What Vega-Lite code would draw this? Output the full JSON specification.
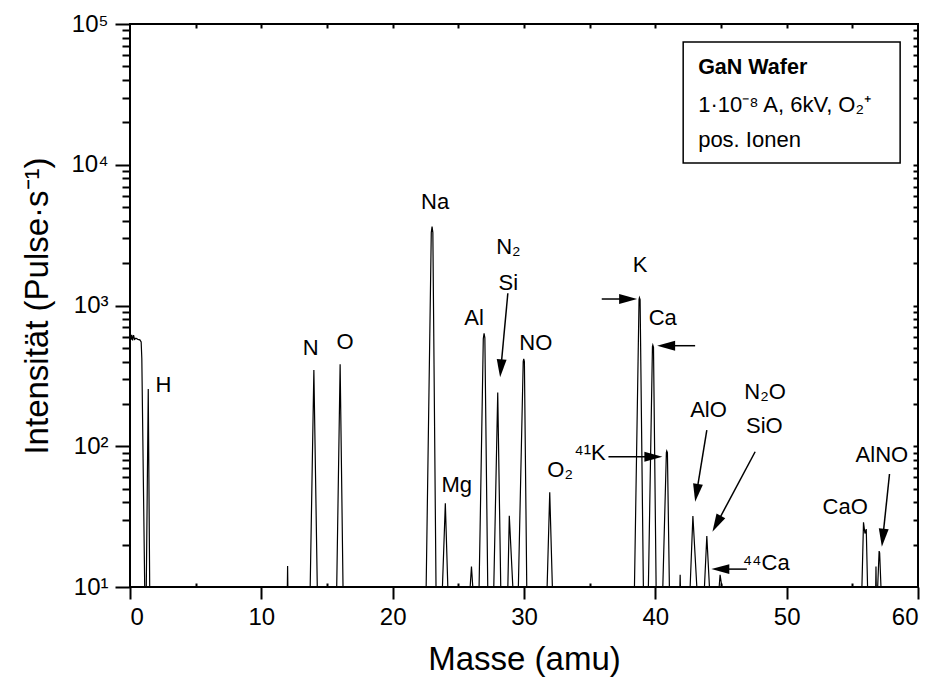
{
  "$schema": "https://vega.github.io/schema/vega-lite/v6.json",
  "width": 788,
  "height": 563,
  "autosize": {"type": "none"},
  "padding": {"left": 130, "top": 24, "right": 15, "bottom": 99},
  "background": "white",
  "config": {
    "view": {"stroke": "black", "strokeWidth": 2},
    "axis": {
      "domain": false, "grid": false,
      "tickColor": "black", "tickWidth": 2,
      "labelFont": "Liberation Sans", "labelFontSize": 24, "labelColor": "black",
      "titleFont": "Liberation Sans", "titleFontSize": 33, "titleFontWeight": "normal", "titleColor": "black"
    },
    "text": {"font": "Liberation Sans", "fontSize": 22, "color": "black"}
  },
  "datasets": {
    "spectrum": [
      {"m": 0, "i": 600}, {"m": 0.07, "i": 570}, {"m": 0.13, "i": 620}, {"m": 0.2, "i": 565}, {"m": 0.27, "i": 615}, {"m": 0.35, "i": 575}, {"m": 0.45, "i": 585}, {"m": 0.6, "i": 575}, {"m": 0.75, "i": 570}, {"m": 0.85, "i": 550}, {"m": 0.9, "i": 420}, {"m": 1.12, "i": 10},
      {"m": 1.24, "i": 10}, {"m": 1.39, "i": 255}, {"m": 1.5, "i": 10},
      {"m": 11.98, "i": 10}, {"m": 12.0, "i": 14.1}, {"m": 12.02, "i": 10},
      {"m": 13.72, "i": 10}, {"m": 14.0, "i": 348}, {"m": 14.26, "i": 10},
      {"m": 15.74, "i": 10}, {"m": 16.0, "i": 382}, {"m": 16.22, "i": 10},
      {"m": 22.55, "i": 10}, {"m": 22.94, "i": 3300}, {"m": 23.0, "i": 3630}, {"m": 23.06, "i": 3300}, {"m": 23.3, "i": 10},
      {"m": 23.79, "i": 10}, {"m": 24.01, "i": 39.4}, {"m": 24.2, "i": 10},
      {"m": 25.9, "i": 10}, {"m": 26.0, "i": 14}, {"m": 26.1, "i": 10},
      {"m": 26.58, "i": 10}, {"m": 26.66, "i": 26.8}, {"m": 26.9, "i": 580}, {"m": 26.96, "i": 634}, {"m": 27.02, "i": 590}, {"m": 27.24, "i": 10},
      {"m": 27.7, "i": 10}, {"m": 28.0, "i": 241}, {"m": 28.23, "i": 10},
      {"m": 28.77, "i": 10}, {"m": 28.88, "i": 32.1}, {"m": 29.15, "i": 10},
      {"m": 29.57, "i": 10}, {"m": 29.94, "i": 400}, {"m": 29.98, "i": 417}, {"m": 30.03, "i": 400}, {"m": 30.21, "i": 10},
      {"m": 31.76, "i": 10}, {"m": 31.96, "i": 47.1}, {"m": 32.16, "i": 10},
      {"m": 38.41, "i": 10}, {"m": 38.76, "i": 1100}, {"m": 38.79, "i": 1135}, {"m": 38.84, "i": 1100}, {"m": 39.09, "i": 10},
      {"m": 39.47, "i": 10}, {"m": 39.78, "i": 510}, {"m": 39.81, "i": 524}, {"m": 39.86, "i": 505}, {"m": 40.06, "i": 10},
      {"m": 40.57, "i": 10}, {"m": 40.84, "i": 90}, {"m": 40.87, "i": 92.5}, {"m": 40.92, "i": 90}, {"m": 41.07, "i": 10},
      {"m": 41.87, "i": 10}, {"m": 41.89, "i": 12.2}, {"m": 41.91, "i": 10},
      {"m": 42.65, "i": 10}, {"m": 42.86, "i": 31.9}, {"m": 43.16, "i": 10},
      {"m": 43.74, "i": 10}, {"m": 43.92, "i": 23}, {"m": 44.12, "i": 10},
      {"m": 44.86, "i": 10}, {"m": 44.93, "i": 12.2}, {"m": 45.07, "i": 10},
      {"m": 55.73, "i": 10}, {"m": 55.85, "i": 28.8}, {"m": 55.96, "i": 24}, {"m": 56.06, "i": 25.8}, {"m": 56.16, "i": 10},
      {"m": 56.78, "i": 10}, {"m": 56.8, "i": 14}, {"m": 56.82, "i": 10},
      {"m": 56.93, "i": 10}, {"m": 57.04, "i": 18}, {"m": 57.08, "i": 17.5}, {"m": 57.18, "i": 10},
      {"m": 60, "i": 10}
    ],
    "labels": [
      {"m": 2.54, "i": 272, "t": "H"},
      {"m": 13.76, "i": 497, "t": "N"},
      {"m": 16.37, "i": 553, "t": "O"},
      {"m": 23.23, "i": 5470, "t": "Na"},
      {"m": 28.81, "i": 2618, "t": "N₂"},
      {"m": 28.81, "i": 1439, "t": "Si"},
      {"m": 26.2, "i": 811, "t": "Al"},
      {"m": 30.9, "i": 539, "t": "NO"},
      {"m": 24.88, "i": 53, "t": "Mg"},
      {"m": 32.75, "i": 67.8, "t": "O₂"},
      {"m": 35.03, "i": 89.6, "t": "⁴¹K"},
      {"m": 38.84, "i": 1941, "t": "K"},
      {"m": 40.56, "i": 811, "t": "Ca"},
      {"m": 44.05, "i": 181, "t": "AlO"},
      {"m": 48.36, "i": 244, "t": "N₂O"},
      {"m": 48.3, "i": 139, "t": "SiO"},
      {"m": 48.44, "i": 14.7, "t": "⁴⁴Ca"},
      {"m": 54.46, "i": 37.2, "t": "CaO"},
      {"m": 57.25, "i": 86.7, "t": "AlNO"}
    ],
    "arrows": [
      {"m": 28.77, "i": 1222, "m2": 28.24, "i2": 358},
      {"m": 35.92, "i": 1112, "m2": 37.93, "i2": 1112},
      {"m": 43.03, "i": 518, "m2": 40.82, "i2": 518},
      {"m": 36.43, "i": 84.3, "m2": 39.85, "i2": 84.3},
      {"m": 43.92, "i": 130, "m2": 43.14, "i2": 46.7},
      {"m": 47.6, "i": 91.4, "m2": 44.67, "i2": 28.1},
      {"m": 46.97, "i": 13.4, "m2": 44.95, "i2": 13.4},
      {"m": 57.83, "i": 63.5, "m2": 57.32, "i2": 22.4}
    ],
    "box": [{"m": 42.12, "m2": 58.64, "i": 74470, "i2": 10290}],
    "legendBold": [
      {"m": 43.26, "i": 48600, "t": "GaN Wafer"}
    ],
    "legend": [
      {"m": 43.26, "i": 26580, "t": "1·10⁻⁸ A, 6kV, O₂⁺"},
      {"m": 43.26, "i": 15000, "t": "pos. Ionen"}
    ]
  },
  "resolve": {"axis": {"x": "independent", "y": "independent"}},
  "layer": [
    {
      "data": {"name": "spectrum"},
      "mark": {"type": "line", "color": "black", "strokeWidth": 1.2, "clip": true},
      "encoding": {
        "x": {"field": "m", "type": "quantitative", "scale": {"domain": [0, 60], "nice": false, "zero": false},
              "axis": {"orient": "bottom", "values": [0, 10, 20, 30, 40, 50, 60], "tickSize": 12, "labelPadding": 6, "title": "Masse (amu)", "titlePadding": 14}},
        "y": {"field": "i", "type": "quantitative", "scale": {"type": "log", "domain": [10, 100000], "nice": false},
              "axis": {"orient": "left", "values": [10, 100, 1000, 10000, 100000], "tickSize": 15, "labelPadding": 7,
                       "labelExpr": "'10' + ['⁰','¹','²','³','⁴','⁵'][round(log(datum.value)/LN10)]",
                       "title": "Intensität (Pulse·s⁻¹)", "titlePadding": 16}}
      }
    },
    {
      "data": {"name": "box"},
      "mark": {"type": "rect", "fill": "white", "stroke": "black", "strokeWidth": 1.5},
      "encoding": {
        "x": {"field": "m", "type": "quantitative", "axis": {"orient": "top", "values": [5, 10, 15, 20, 25, 30, 35, 40, 45, 50, 55], "tickSize": -4, "labels": false, "title": null}},
        "x2": {"field": "m2"},
        "y": {"field": "i", "type": "quantitative", "axis": {"orient": "right", "values": [20, 30, 40, 50, 60, 70, 80, 90, 100, 200, 300, 400, 500, 600, 700, 800, 900, 1000, 2000, 3000, 4000, 5000, 6000, 7000, 8000, 9000, 10000, 20000, 30000, 40000, 50000, 60000, 70000, 80000, 90000], "tickSize": -5, "labels": false, "title": null}},
        "y2": {"field": "i2"}
      }
    },
    {
      "data": {"name": "labels"},
      "mark": {"type": "text", "align": "center", "baseline": "middle"},
      "encoding": {
        "x": {"field": "m", "type": "quantitative", "axis": {"orient": "bottom", "values": [5, 15, 25, 35, 45, 55], "tickSize": -4, "labels": false, "title": null}},
        "y": {"field": "i", "type": "quantitative", "axis": {"orient": "left", "values": [20, 30, 40, 50, 60, 70, 80, 90, 200, 300, 400, 500, 600, 700, 800, 900, 2000, 3000, 4000, 5000, 6000, 7000, 8000, 9000, 20000, 30000, 40000, 50000, 60000, 70000, 80000, 90000], "tickSize": 8, "labels": false, "title": null}},
        "text": {"field": "t"}
      }
    },
    {
      "data": {"name": "legendBold"},
      "mark": {"type": "text", "align": "left", "baseline": "middle", "fontSize": 21.5, "fontWeight": "bold"},
      "encoding": {
        "x": {"field": "m", "type": "quantitative", "axis": null},
        "y": {"field": "i", "type": "quantitative", "axis": null},
        "text": {"field": "t"}
      }
    },
    {
      "data": {"name": "legend"},
      "mark": {"type": "text", "align": "left", "baseline": "middle", "fontSize": 22},
      "encoding": {
        "x": {"field": "m", "type": "quantitative", "axis": null},
        "y": {"field": "i", "type": "quantitative", "axis": null},
        "text": {"field": "t"}
      }
    },
    {
      "data": {"name": "arrows"},
      "mark": {"type": "rule", "color": "black", "strokeWidth": 1.5},
      "encoding": {
        "x": {"field": "m", "type": "quantitative", "axis": null},
        "x2": {"field": "m2"},
        "y": {"field": "i", "type": "quantitative", "axis": null},
        "y2": {"field": "i2"}
      }
    },
    {
      "data": {"values": [{"m": 37.93, "i": 1112}, {"m": 39.85, "i": 84.3}]},
      "mark": {"type": "point", "shape": "M-0.55,-1L0.55,-1L0,1Z", "size": 324, "angle": 270, "filled": true, "color": "black", "opacity": 1},
      "encoding": {"x": {"field": "m", "type": "quantitative", "axis": null}, "y": {"field": "i", "type": "quantitative", "axis": null}}
    },
    {
      "data": {"values": [{"m": 40.82, "i": 518}, {"m": 44.95, "i": 13.4}]},
      "mark": {"type": "point", "shape": "M-0.55,-1L0.55,-1L0,1Z", "size": 324, "angle": 90, "filled": true, "color": "black", "opacity": 1},
      "encoding": {"x": {"field": "m", "type": "quantitative", "axis": null}, "y": {"field": "i", "type": "quantitative", "axis": null}}
    },
    {
      "data": {"values": [{"m": 28.24, "i": 358}]},
      "mark": {"type": "point", "shape": "M-0.55,-1L0.55,-1L0,1Z", "size": 324, "angle": 5, "filled": true, "color": "black", "opacity": 1},
      "encoding": {"x": {"field": "m", "type": "quantitative", "axis": null}, "y": {"field": "i", "type": "quantitative", "axis": null}}
    },
    {
      "data": {"values": [{"m": 43.14, "i": 46.7}]},
      "mark": {"type": "point", "shape": "M-0.55,-1L0.55,-1L0,1Z", "size": 324, "angle": 9, "filled": true, "color": "black", "opacity": 1},
      "encoding": {"x": {"field": "m", "type": "quantitative", "axis": null}, "y": {"field": "i", "type": "quantitative", "axis": null}}
    },
    {
      "data": {"values": [{"m": 44.67, "i": 28.1}]},
      "mark": {"type": "point", "shape": "M-0.55,-1L0.55,-1L0,1Z", "size": 324, "angle": 28, "filled": true, "color": "black", "opacity": 1},
      "encoding": {"x": {"field": "m", "type": "quantitative", "axis": null}, "y": {"field": "i", "type": "quantitative", "axis": null}}
    },
    {
      "data": {"values": [{"m": 57.32, "i": 22.4}]},
      "mark": {"type": "point", "shape": "M-0.55,-1L0.55,-1L0,1Z", "size": 324, "angle": 6, "filled": true, "color": "black", "opacity": 1},
      "encoding": {"x": {"field": "m", "type": "quantitative", "axis": null}, "y": {"field": "i", "type": "quantitative", "axis": null}}
    }
  ]
}
